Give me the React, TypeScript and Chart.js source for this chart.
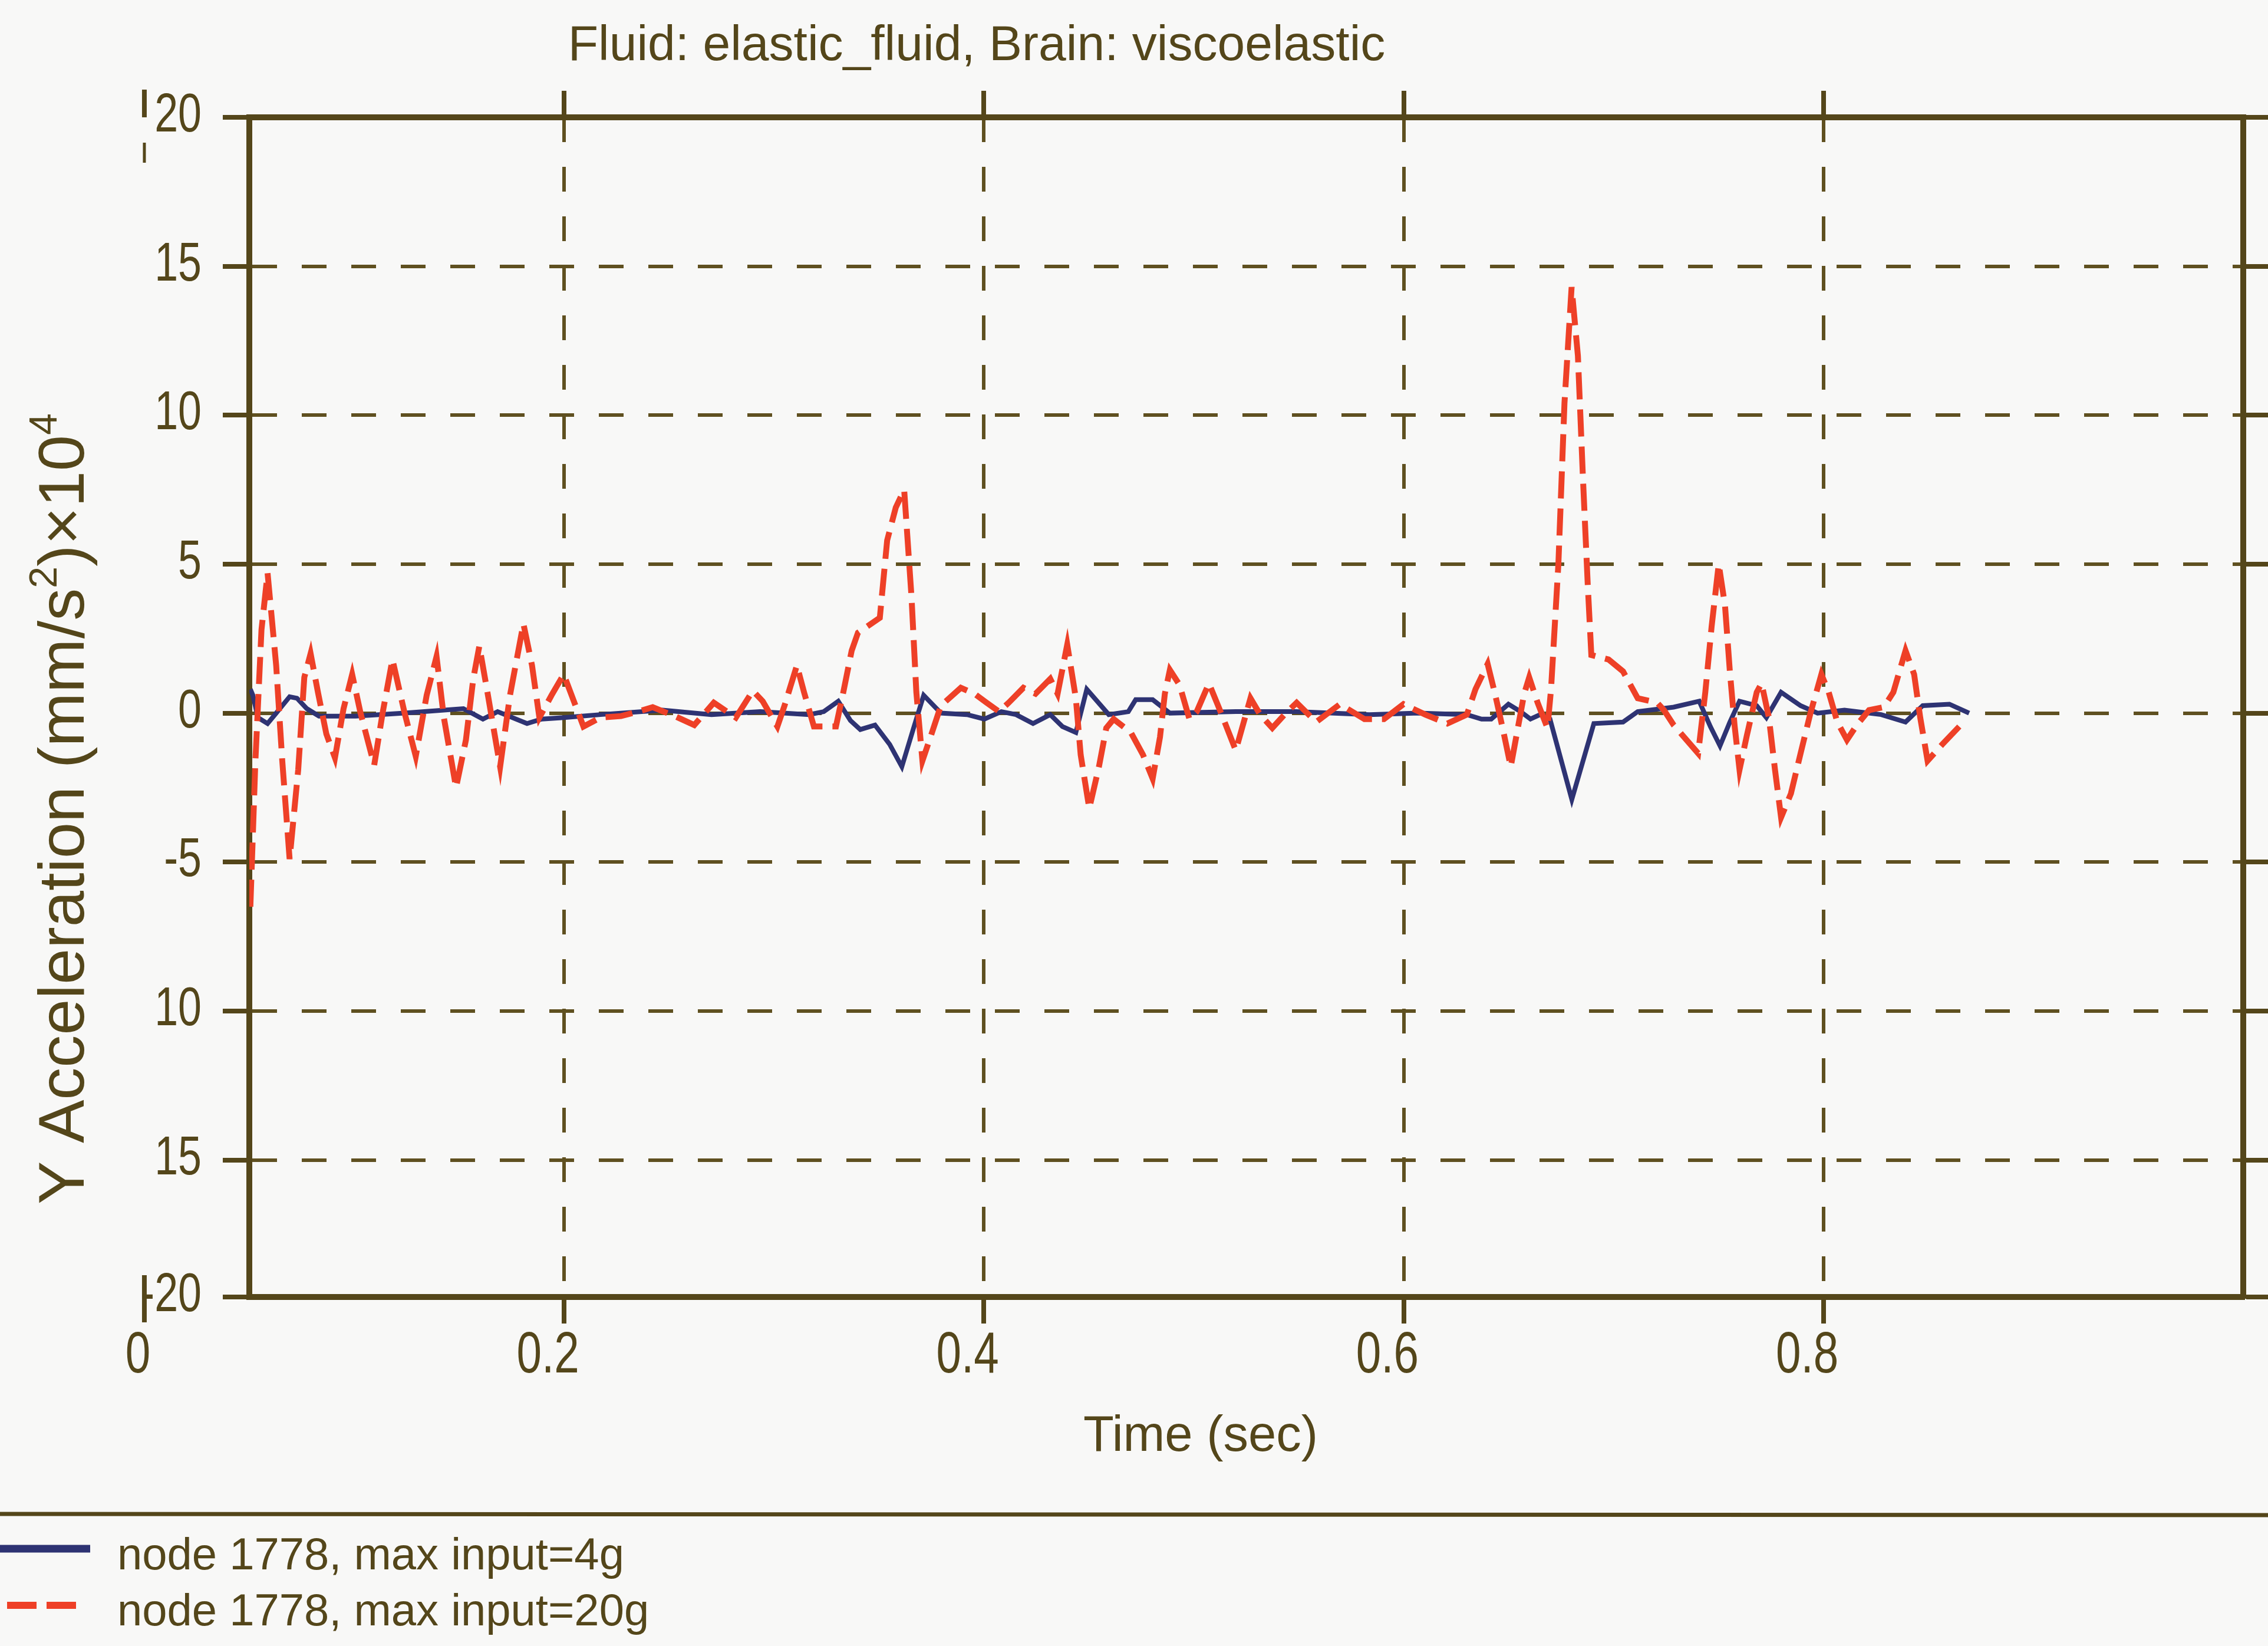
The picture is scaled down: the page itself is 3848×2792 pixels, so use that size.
import React, { useEffect, useRef } from "react";
import { Chart, registerables } from "chart.js";

Chart.register(...registerables);

const W = 3848;
const H = 2792;

const TITLE = "Fluid: elastic_fluid, Brain: viscoelastic";
const X_TITLE = "Time (sec)";
const Y_TITLE_PARTS = [
  { t: "Y Acceleration (mm/s", sup: false },
  { t: "2", sup: true },
  { t: ")×10", sup: false },
  { t: "4", sup: true },
];
const SERIES_LABELS = ["node 1778, max input=4g", "node 1778, max input=20g"];

const X_MIN = 0.05;
const X_MAX = 1.0;
const Y_MIN = -19.6; // scanned axis: bottom border sits slightly above the -20 spacing
const Y_MAX = 20;
const X_TICKS = [0, 0.2, 0.4, 0.6, 0.8];
const X_TICK_LABELS = ["0", "0.2", "0.4", "0.6", "0.8"];
const Y_TICKS = [20, 15, 10, 5, 0, -5, -10, -15, -20];
const Y_TICK_LABELS = ["20", "15", "10", "5", "0", "-5", "10", "15", "-20"];

// node 1778, max input=4g (solid blue)
const blueTime = [
  0.0505, 0.0517, 0.0541, 0.0587, 0.0628, 0.0692, 0.0727, 0.0774, 0.0832, 0.1007,
  0.124, 0.152, 0.1613, 0.1683, 0.1823, 0.1893, 0.1998, 0.2173, 0.2469, 0.2702,
  0.2934, 0.3167, 0.3237, 0.3306, 0.3364, 0.3411, 0.3481, 0.3551, 0.3609, 0.3667,
  0.3713, 0.3795, 0.392, 0.4002, 0.4083, 0.4153, 0.4234, 0.4316, 0.4374, 0.4438,
  0.449, 0.4595, 0.4688, 0.4723, 0.4804, 0.4886, 0.52, 0.5487, 0.5836, 0.6069,
  0.6301, 0.6371, 0.6417, 0.6499, 0.6557, 0.6604, 0.665, 0.6697, 0.6801, 0.6906,
  0.7045, 0.7115, 0.7286, 0.7408, 0.7461, 0.7507, 0.7554, 0.76, 0.7682, 0.7728,
  0.7798, 0.7891, 0.7972, 0.81, 0.8275, 0.8391, 0.8473, 0.86, 0.8694,
];
const blueAccel = [
  0.8, 0.6, -0.15, -0.35, 0.0, 0.55, 0.5, 0.15, -0.1, -0.1,
  0.0, 0.15, -0.2, 0.05, -0.35, -0.2, -0.15, -0.05, 0.1, -0.05,
  0.05, -0.05, 0.05, 0.4, -0.25, -0.55, -0.4, -1.05, -1.8, -0.45,
  0.6, 0.0, -0.05, -0.2, 0.05, -0.05, -0.35, -0.05, -0.45, -0.65,
  0.8, -0.05, 0.05, 0.45, 0.45, 0.0, 0.05, 0.05, -0.05, 0.0,
  -0.05, -0.2, -0.2, 0.3, 0.05, -0.2, -0.05, -0.2, -2.9, -0.35,
  -0.3, 0.05, 0.2, 0.4, -0.45, -1.1, -0.3, 0.4, 0.25, -0.15,
  0.7, 0.25, 0.0, 0.1, -0.05, -0.3, 0.25, 0.3, 0.0,
];

// node 1778, max input=20g (dashed red)
const redTime = [
  0.0505, 0.0529, 0.0558, 0.0587, 0.0628, 0.0657, 0.0692, 0.0733, 0.0762, 0.0792,
  0.0827, 0.0867, 0.0908, 0.0949, 0.099, 0.103, 0.1095, 0.1135, 0.1182, 0.124,
  0.1293, 0.1345, 0.1392, 0.1427, 0.1485, 0.1532, 0.1567, 0.1596, 0.1637, 0.1695,
  0.1742, 0.1806, 0.1847, 0.1882, 0.194, 0.1998, 0.2092, 0.2173, 0.2271, 0.2353,
  0.2422, 0.2527, 0.262, 0.2713, 0.2818, 0.2899, 0.2946, 0.3016, 0.305, 0.3109,
  0.3143, 0.319, 0.3295, 0.333, 0.337, 0.34, 0.3504, 0.3539, 0.358, 0.362,
  0.3655, 0.3678, 0.3707, 0.3748, 0.3795, 0.389, 0.3955, 0.4013, 0.4072, 0.4118,
  0.4188, 0.4246, 0.4316, 0.4351, 0.4397, 0.4438, 0.4461, 0.4502, 0.4548, 0.4583,
  0.4618, 0.47, 0.4758, 0.4804, 0.4839, 0.4862, 0.4886, 0.4932, 0.4979, 0.5014,
  0.5072, 0.513, 0.52, 0.527, 0.5316, 0.5374, 0.5432, 0.549, 0.5583, 0.5696,
  0.5813, 0.5906, 0.5999, 0.6103, 0.6208, 0.6301, 0.6342, 0.64, 0.6435, 0.6476,
  0.651, 0.654, 0.6574, 0.6598, 0.6638, 0.6685, 0.6702, 0.6737, 0.6766, 0.68,
  0.683, 0.6854, 0.6877, 0.6894, 0.6976, 0.7045, 0.7115, 0.7208, 0.724, 0.7286,
  0.7403, 0.7437, 0.7467, 0.7501, 0.7531, 0.7554, 0.7577, 0.76, 0.7635, 0.7682,
  0.7705, 0.774, 0.7769, 0.7798, 0.7845, 0.7891, 0.7938, 0.799, 0.8025, 0.8066,
  0.8112, 0.8159, 0.8217, 0.8287, 0.8333, 0.8391, 0.8432, 0.8461, 0.8496, 0.8566,
  0.8647,
];
const redAccel = [
  -6.5, -1.6, 2.8, 4.7, 1.6, -1.6, -4.9, -1.9, 1.2, 2.0,
  0.7, -0.7, -1.5, 0.15, 1.3, 0.0, -1.75, 0.0, 1.8, 0.0,
  -1.45, 0.6, 1.9, -0.15, -2.5, -0.9, 1.15, 2.25, 0.6, -1.8,
  0.6, 3.0, 1.6, -0.15, 0.6, 1.3, -0.45, -0.15, -0.1, 0.05,
  0.2, -0.1, -0.4, 0.35, -0.15, 0.75, 0.4, -0.45, 0.25, 1.6,
  0.7, -0.45, -0.45, 0.7, 2.1, 2.7, 3.2, 5.8, 6.9, 7.5,
  3.9, 0.7, -1.6, -0.75, 0.25, 0.85, 0.65, 0.35, 0.05, 0.35,
  0.85, 0.65, 1.15, 0.65, 2.3, 0.5, -1.4, -3.2, -1.8, -0.5,
  -0.2, -0.65, -1.4, -2.2, -0.8, 0.65, 1.45, 0.95, -0.2, 0.05,
  1.0, 0.0, -1.25, 0.5, -0.05, -0.5, -0.05, 0.35, -0.3, 0.3,
  -0.2, -0.2, 0.3, -0.05, -0.35, -0.05, 0.8, 1.65, 0.65, -0.65,
  -1.8, -0.65, 0.65, 1.2, 0.35, -0.5, 0.8, 5.0, 10.4, 14.3,
  12.0, 7.9, 4.3, 1.95, 1.8, 1.4, 0.5, 0.35, 0.1, -0.4,
  -1.35, 0.7, 2.9, 5.0, 3.6, 1.4, -0.45, -1.9, -0.75, 0.7,
  1.0, -0.15, -1.9, -3.5, -2.7, -1.35, 0.0, 1.3, 0.7, -0.3,
  -0.9, -0.4, 0.1, 0.2, 0.7, 2.1, 1.3, -0.15, -1.6, -1.05,
  -0.45,
];

const FONT = '"Liberation Sans", Arial, Helvetica, sans-serif';
const INK = "#54461a";
const GRID = "#5f5020";
const BG = "#f8f8f7";
const BLUE = "#2e3373";
const RED = "#ee4027";
const RED_DASH = [46, 17];
const CONDENSE = 0.78;

const clampY = (v: number) => Math.min(Y_MAX, Math.max(Y_MIN, v));

function condensedText(ctx: CanvasRenderingContext2D, text: string, x: number, y: number, size: number, anchor: number) {
  ctx.save();
  ctx.font = `${size}px ${FONT}`;
  ctx.textBaseline = "alphabetic";
  ctx.textAlign = "left";
  const w = ctx.measureText(text).width * CONDENSE;
  ctx.translate(x - anchor * w, y);
  ctx.scale(CONDENSE, 1);
  ctx.fillStyle = INK;
  ctx.fillText(text, 0, 0);
  ctx.restore();
}

const decorPlugin = {
  id: "decor",
  beforeDraw(chart: any) {
    const ctx = chart.ctx as CanvasRenderingContext2D;
    ctx.save();
    ctx.fillStyle = BG;
    ctx.fillRect(0, 0, chart.width, chart.height);
    ctx.restore();
  },
  afterDraw(chart: any) {
    const ctx = chart.ctx as CanvasRenderingContext2D;
    const ca = chart.chartArea;
    const xs = chart.scales.x;
    const ys = chart.scales.y;

    // y tick labels
    Y_TICKS.forEach((v, i) => {
      const py = ys.getPixelForValue(clampY(v));
      condensedText(ctx, Y_TICK_LABELS[i], ca.left - 81, py + 24, 92, 1);
    });
    // x tick labels
    X_TICKS.forEach((v, i) => {
      const px = xs.getPixelForValue(v);
      condensedText(ctx, X_TICK_LABELS[i], px, ca.bottom + 128, 98, 0.76);
    });

    // stray tick marks at t = 0 (outside plotted range)
    const x0 = xs.getPixelForValue(0);
    ctx.save();
    ctx.strokeStyle = INK;
    ctx.lineWidth = 8;
    ctx.beginPath();
    ctx.moveTo(x0, ca.bottom - 37);
    ctx.lineTo(x0, ca.bottom + 43);
    ctx.moveTo(x0, ca.top - 47);
    ctx.lineTo(x0, ca.top);
    ctx.stroke();
    ctx.lineWidth = 5;
    ctx.beginPath();
    ctx.moveTo(x0, ca.top + 43);
    ctx.lineTo(x0, ca.top + 77);
    ctx.stroke();
    ctx.restore();

    ctx.save();
    ctx.fillStyle = INK;
    ctx.textBaseline = "alphabetic";
    ctx.font = `84px ${FONT}`;
    ctx.textAlign = "center";
    ctx.fillText(TITLE, ca.left + 1234, ca.top - 97);
    ctx.font = `85px ${FONT}`;
    ctx.fillText(X_TITLE, ca.left + 1614, ca.bottom + 261);
    ctx.restore();

    // y title with superscripts
    ctx.save();
    ctx.fillStyle = INK;
    ctx.textBaseline = "alphabetic";
    ctx.textAlign = "left";
    ctx.translate(ca.left - 281, ca.top + 1173);
    ctx.rotate(-Math.PI / 2);
    const mainFont = `110px ${FONT}`;
    const supFont = `66px ${FONT}`;
    let total = 0;
    Y_TITLE_PARTS.forEach((p) => {
      ctx.font = p.sup ? supFont : mainFont;
      total += ctx.measureText(p.t).width;
    });
    let cx = -total / 2;
    Y_TITLE_PARTS.forEach((p) => {
      ctx.font = p.sup ? supFont : mainFont;
      ctx.fillText(p.t, cx, p.sup ? -46 : 0);
      cx += ctx.measureText(p.t).width;
    });
    ctx.restore();

    // legend block
    ctx.save();
    ctx.strokeStyle = INK;
    ctx.lineWidth = 7;
    ctx.beginPath();
    ctx.moveTo(0, ca.bottom + 368);
    ctx.lineTo(chart.width, ca.bottom + 370);
    ctx.stroke();

    ctx.lineWidth = 13;
    ctx.strokeStyle = BLUE;
    ctx.beginPath();
    ctx.moveTo(0, ca.bottom + 427);
    ctx.lineTo(153, ca.bottom + 427);
    ctx.stroke();

    ctx.lineWidth = 12;
    ctx.strokeStyle = RED;
    ctx.setLineDash([50, 17]);
    ctx.beginPath();
    ctx.moveTo(12, ca.bottom + 523);
    ctx.lineTo(133, ca.bottom + 523);
    ctx.stroke();
    ctx.setLineDash([]);

    ctx.fillStyle = INK;
    ctx.font = `76px ${FONT}`;
    ctx.textAlign = "left";
    ctx.textBaseline = "alphabetic";
    ctx.fillText(SERIES_LABELS[0], 199, ca.bottom + 462);
    ctx.fillText(SERIES_LABELS[1], 199, ca.bottom + 557);
    ctx.restore();
  },
};

const gridCommon = {
  color: GRID,
  lineWidth: 6,
  drawTicks: true,
  tickLength: 45,
  tickColor: INK,
  tickWidth: 8,
};

const xGridValues = X_TICKS.filter((v) => v >= X_MIN && v <= X_MAX);
const yGridValues = Y_TICKS.map(clampY).sort((a, b) => a - b);

export default function App() {
  const ref = useRef<HTMLCanvasElement | null>(null);

  useEffect(() => {
    const canvas = ref.current;
    if (!canvas) return;
    const chart = new Chart(canvas, {
      type: "line",
      data: {
        datasets: [
          {
            label: SERIES_LABELS[0],
            data: blueTime.map((t, i) => ({ x: t, y: blueAccel[i] })),
            borderColor: BLUE,
            borderWidth: 8,
            pointRadius: 0,
            tension: 0,
            fill: false,
            order: 1,
            xAxisID: "x",
            yAxisID: "y",
          },
          {
            label: SERIES_LABELS[1],
            data: redTime.map((t, i) => ({ x: t, y: redAccel[i] })),
            borderColor: RED,
            borderWidth: 10,
            borderDash: RED_DASH,
            pointRadius: 0,
            tension: 0,
            fill: false,
            order: 0,
            xAxisID: "x",
            yAxisID: "y",
          },
        ],
      },
      options: {
        responsive: false,
        devicePixelRatio: 1,
        animation: false,
        events: [],
        layout: { padding: { left: 378, right: 0, top: 154, bottom: 547 } },
        plugins: {
          legend: { display: false },
          title: { display: false },
          tooltip: { enabled: false },
        },
        scales: {
          x: {
            type: "linear",
            position: "bottom",
            min: X_MIN,
            max: X_MAX,
            afterBuildTicks: (s: any) => {
              s.ticks = xGridValues.map((v) => ({ value: v }));
            },
            afterFit: (s: any) => {
              s.height = 45;
            },
            ticks: { display: false },
            grid: gridCommon,
            border: { display: true, color: INK, width: 10, dash: [42, 42] },
          },
          x2: {
            type: "linear",
            position: "top",
            min: X_MIN,
            max: X_MAX,
            afterBuildTicks: (s: any) => {
              s.ticks = xGridValues.map((v) => ({ value: v }));
            },
            afterFit: (s: any) => {
              s.height = 45;
            },
            ticks: { display: false },
            grid: { ...gridCommon, drawOnChartArea: false },
            border: { display: true, color: INK, width: 10 },
          },
          y: {
            type: "linear",
            position: "left",
            min: Y_MIN,
            max: Y_MAX,
            afterBuildTicks: (s: any) => {
              s.ticks = yGridValues.map((v) => ({ value: v }));
            },
            afterFit: (s: any) => {
              s.width = 45;
            },
            ticks: { display: false },
            grid: gridCommon,
            border: { display: true, color: INK, width: 10, dash: [42, 42] },
          },
          y2: {
            type: "linear",
            position: "right",
            min: Y_MIN,
            max: Y_MAX,
            afterBuildTicks: (s: any) => {
              s.ticks = yGridValues.map((v) => ({ value: v }));
            },
            afterFit: (s: any) => {
              s.width = 42;
            },
            ticks: { display: false },
            grid: { ...gridCommon, drawOnChartArea: false },
            border: { display: true, color: INK, width: 10 },
          },
        },
      } as any,
      plugins: [decorPlugin],
    });
    return () => chart.destroy();
  }, []);

  return (
    <div style={{ position: "fixed", left: 0, top: 0, width: W, height: H, background: BG }}>
      <canvas ref={ref} width={W} height={H} style={{ display: "block", width: W, height: H }} />
    </div>
  );
}
